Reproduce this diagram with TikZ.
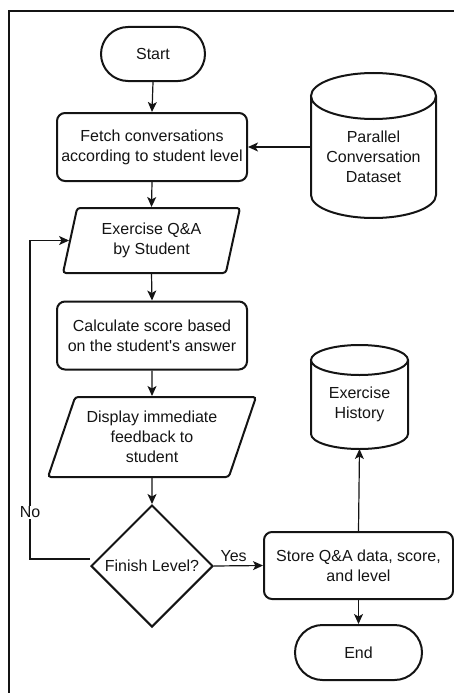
\documentclass[tikz,border=0pt]{standalone}
\usepackage{fontspec}
\setmainfont{Liberation Sans}
\usetikzlibrary{arrows.meta,shapes.geometric,shapes.misc,calc}
\definecolor{ink}{RGB}{20,20,20}
\tikzset{
  >={Stealth[length=10pt,width=9pt,inset=2.5pt]},
  base/.style={draw=ink,line width=2pt,align=center,text=ink,inner sep=2pt,
    font=\fontsize{16}{20}\selectfont},
  terminal/.style={base,rounded rectangle,minimum width=#1,minimum height=54pt},
  process/.style={base,rectangle,rounded corners=8pt,minimum width=#1,minimum height=68pt},
  inout/.style 2 args={base,trapezium,trapezium stretches body,
    trapezium left angle=#1,trapezium right angle=#2,rounded corners=3pt},
  decision/.style={base,diamond,minimum width=122pt,minimum height=122pt,inner sep=0pt},
  drum/.style={base,draw=none,minimum width=#1},
  flow/.style={->,draw=ink,line width=1.2pt},
  tag/.style={font=\fontsize{16}{20}\selectfont,text=ink},
}
% cylinder outline round a drum node (node name, ellipse radius)
\newcommand{\drum}[2]{%
  \path let \p1=(#1.west), \p2=(#1.east) in
    [draw=ink,line width=2pt] (#1.north west) -- ([yshift=#2pt]#1.south west)
    arc[start angle=180,end angle=360,x radius={(\x2-\x1)/2},y radius=#2pt]
    -- (#1.north east)
    (#1.north) ellipse[x radius={(\x2-\x1)/2},y radius=#2pt];
}

\begin{document}
\begin{tikzpicture}[x=1pt,y=1pt]
  \useasboundingbox (0,0) rectangle (454,-693);
  \draw[ink,line width=2pt] (9,-693) -- (9,-11) -- (454,-11);

  % main column
  \node[terminal=108pt] (start) at (153,-54) {Start};
  \node[process=190pt] (fetch) at (152,-147) {Fetch conversations\\according to student level};
  \node[inout={70}{110},minimum width=177pt,minimum height=65pt] (exq) at (151.5,-240.5) {Exercise Q\&A\\by Student};
  \node[process=190pt] (calc) at (152,-335.5) {Calculate score based\\on the student\textquotesingle s answer};
  \node[inout={64}{116},minimum width=208pt,minimum height=80pt] (disp) at (152,-437) {Display immediate\\feedback to\\student};
  \node[decision] (fin) at (152,-566) {Finish Level?};

  % right side
  \node[drum=123pt,minimum height=120pt] (pcd) at (373.5,-157) {Parallel\\Conversation\\Dataset};
  \drum{pcd}{23}
  \node[process=189pt,minimum height=67pt] (store) at (358.5,-565.5) {Store Q\&A data, score,\\and level};
  \node[drum=95pt,minimum height=87pt] (hist) at (359.5,-404.5) {Exercise\\History};
  \drum{hist}{15}
  \node[terminal=131pt,minimum height=55pt] (end) at (358.5,-652.5) {End};

  \foreach \a/\b in {start/fetch,fetch/exq,exq/calc,calc/disp,disp/fin}
    \draw[flow] (\a.south) -- (\b.north);
  \draw[flow] (pcd.west |- fetch.east) -- (fetch.east);
  \draw[flow] (fin.east) -- node[tag,above,pos=0.4] (yes) {Yes} (store.west);
  \draw[flow] ([yshift=7pt]fin.west) -- ++(-60,0)
    |- node[tag,fill=white,inner sep=1pt,pos=0.073] (no) {No} (exq.west);
  \draw[flow] (store.north) -- (hist.south);
  \draw[flow] (store.south) -- (end.north);
\end{tikzpicture}
\end{document}
